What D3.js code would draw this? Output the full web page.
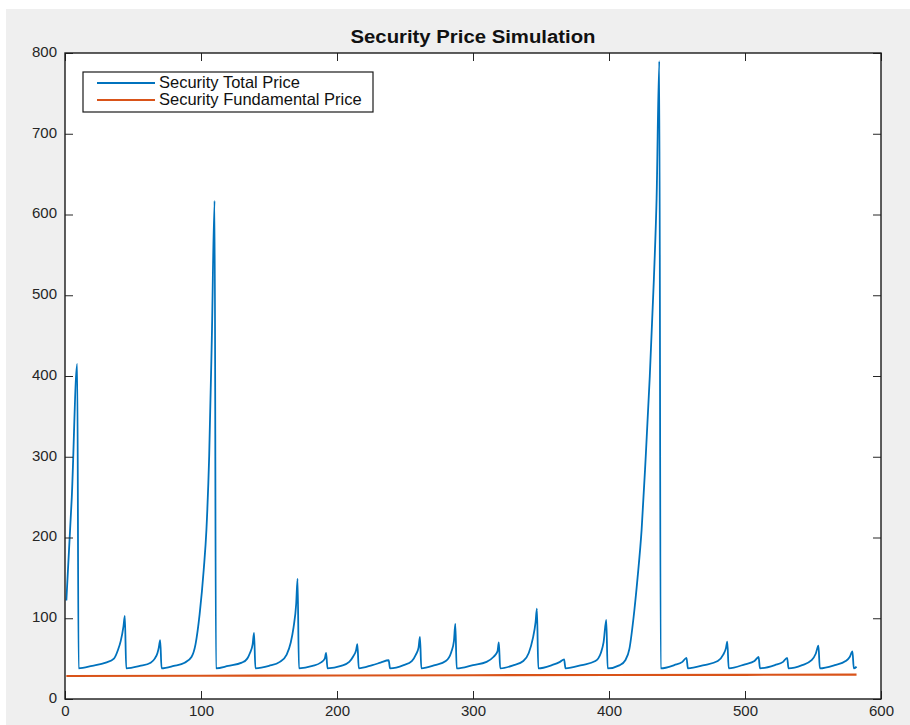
<!DOCTYPE html>
<html>
<head>
<meta charset="utf-8">
<script src="https://cdn.jsdelivr.net/npm/d3@7"></script>
<style>
  html, body { margin: 0; padding: 0; background: #ffffff; }
  svg { display: block; }
</style>
</head>
<body>
<script>
// ---------- data ----------
const totalX = [
  1, 5, 9,
  10, 20, 30, 36, 39, 41, 43, 44,
  45, 55, 63, 66, 68, 69, 70,
  71, 80, 88, 93, 96, 99, 102, 104, 106, 108, 110,
  111, 120, 130, 134, 136, 138, 139,
  140, 150, 158, 163, 166, 168, 170, 171,
  172, 182, 188, 191, 192,
  193, 203, 209, 212, 214, 215,
  216, 226, 232, 238,
  239, 249, 255, 258, 260, 261,
  262, 272, 280, 284, 286, 287,
  288, 300, 310, 315, 318, 319,
  320, 330, 337, 341, 344, 346, 347,
  348, 358, 364, 367,
  368, 380, 390, 394, 396, 398,
  399, 408, 412, 415, 418, 421, 424, 427, 430, 433, 435, 437,
  438, 448, 454, 457,
  458, 470, 480, 484, 486, 487,
  488, 500, 507, 510,
  511, 522, 528, 531,
  532, 542, 549, 552, 554,
  555, 566, 574, 577, 579,
  580, 582
];
const totalPrice = [
  122, 250, 415,
  38, 41, 45, 50, 61, 72, 90, 103,
  38, 41, 45, 50, 57, 64, 73,
  38, 41, 45, 52, 68, 105, 160, 210, 300, 450, 617,
  38, 41, 45, 50, 57, 68, 82,
  38, 41, 46, 55, 70, 88, 118, 149,
  38, 41, 45, 50, 57,
  38, 41, 46, 53, 60, 68,
  38, 42, 45, 48,
  38, 42, 47, 55, 64, 77,
  38, 42, 47, 58, 72, 93,
  38, 42, 46, 52, 59, 70,
  38, 42, 47, 57, 75, 95, 112,
  38, 42, 46, 49,
  38, 42, 47, 57, 70, 98,
  38, 42, 48, 62, 100, 150, 210, 300, 400, 520, 620, 790,
  38, 42, 46, 51,
  38, 42, 47, 55, 63, 71,
  38, 43, 47, 52,
  38, 42, 46, 51,
  38, 42, 48, 56, 66,
  38, 42, 47, 52, 59,
  38, 40
];
const fundamentalX = [1, 100, 200, 300, 400, 500, 582];
const fundamentalPrice = [28.5, 28.8, 29.1, 29.4, 29.7, 30.0, 30.3];
const xTicks = [0, 100, 200, 300, 400, 500, 600];
const yTicks = [0, 100, 200, 300, 400, 500, 600, 700, 800];
const seriesNames = ["Security Total Price", "Security Fundamental Price"];
const seriesColors = ["#0072BD", "#D95319"];
const chartTitle = "Security Price Simulation";

// ---------- layout ----------
const W = 910, H = 725;
const plot = { left: 65, right: 881, top: 53, bottom: 699 };
const tickLen = 8;

const svg = d3.select("body").append("svg")
  .attr("width", W).attr("height", H);

// figure background
svg.append("rect").attr("x", 6).attr("y", 9)
  .attr("width", W - 6).attr("height", H - 9)
  .attr("fill", "#efefef");

// axes background
svg.append("rect")
  .attr("x", plot.left).attr("y", plot.top)
  .attr("width", plot.right - plot.left).attr("height", plot.bottom - plot.top)
  .attr("fill", "#ffffff");

const x = d3.scaleLinear().domain([0, 600]).range([plot.left, plot.right]);
const y = d3.scaleLinear().domain([0, 800]).range([plot.bottom, plot.top]);

const font = "'Liberation Sans', Arial, sans-serif";

// clip
svg.append("clipPath").attr("id", "clip").append("rect")
  .attr("x", plot.left).attr("y", plot.top)
  .attr("width", plot.right - plot.left).attr("height", plot.bottom - plot.top);

// lines
const lineGen = d3.line().x(d => x(d[0])).y(d => y(d[1])).curve(d3.curveMonotoneX);
const fundData = fundamentalX.map((v, i) => [v, fundamentalPrice[i]]);
const totalData = totalX.map((v, i) => [v, totalPrice[i]]);

const g = svg.append("g").attr("clip-path", "url(#clip)");
g.append("path").datum(fundData)
  .attr("d", d3.line().x(d => x(d[0])).y(d => y(d[1]))).attr("fill", "none")
  .attr("stroke", seriesColors[1]).attr("stroke-width", 2.2);
g.append("path").datum(totalData)
  .attr("d", lineGen).attr("fill", "none")
  .attr("stroke", seriesColors[0]).attr("stroke-width", 1.8)
  .attr("stroke-linejoin", "round");

// axes with inward ticks on all four sides
const axB = d3.axisBottom(x).tickValues(xTicks).tickSize(-tickLen).tickPadding(6);
const axT = d3.axisTop(x).tickValues(xTicks).tickSize(-tickLen).tickFormat("");
const axL = d3.axisLeft(y).tickValues(yTicks).tickSize(-tickLen).tickPadding(8);
const axR = d3.axisRight(y).tickValues(yTicks).tickSize(-tickLen).tickFormat("");

function styleAxis(sel) {
  sel.select(".domain").remove();
  sel.selectAll(".tick line").attr("stroke", "#262626").attr("stroke-width", 1);
  sel.selectAll(".tick text").attr("fill", "#262626")
    .style("font-family", font).style("font-size", "15px");
}

svg.append("g").attr("transform", `translate(0,${plot.bottom})`).call(axB).call(styleAxis);
svg.append("g").attr("transform", `translate(0,${plot.top})`).call(axT).call(styleAxis);
svg.append("g").attr("transform", `translate(${plot.left},0)`).call(axL).call(styleAxis)
  .selectAll(".tick text").attr("dy", "0.22em");
svg.append("g").attr("transform", `translate(${plot.right},0)`).call(axR).call(styleAxis);

// box
svg.append("rect")
  .attr("x", plot.left).attr("y", plot.top)
  .attr("width", plot.right - plot.left).attr("height", plot.bottom - plot.top)
  .attr("fill", "none").attr("stroke", "#1a1a1a").attr("stroke-width", 1.4);

// title
svg.append("text")
  .attr("x", (plot.left + plot.right) / 2).attr("y", 43)
  .attr("text-anchor", "middle")
  .attr("textLength", 245).attr("lengthAdjust", "spacingAndGlyphs")
  .style("font-family", font).style("font-size", "18px").style("font-weight", "bold")
  .attr("fill", "#111")
  .text(chartTitle);

// legend
const leg = svg.append("g");
leg.append("rect").attr("x", 83).attr("y", 72).attr("width", 290).attr("height", 40)
  .attr("fill", "#ffffff").attr("stroke", "#1a1a1a").attr("stroke-width", 1.2);
const legY = [83, 100];
seriesNames.forEach((name, i) => {
  leg.append("line").attr("x1", 97).attr("x2", 155)
    .attr("y1", legY[i]).attr("y2", legY[i])
    .attr("stroke", seriesColors[i]).attr("stroke-width", i === 0 ? 1.8 : 2);
  leg.append("text").attr("x", 159).attr("y", legY[i] + 5)
    .style("font-family", font).style("font-size", "16.5px")
    .attr("fill", "#111")
    .text(name);
});
</script>
</body>
</html>
